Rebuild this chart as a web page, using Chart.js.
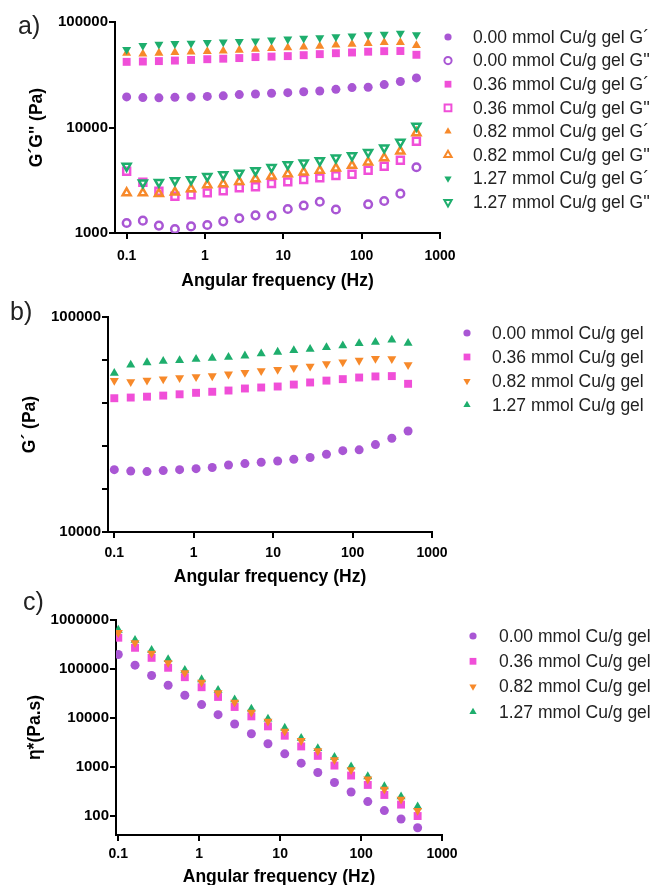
<!DOCTYPE html>
<html>
<head>
<meta charset="utf-8">
<script src="https://cdn.jsdelivr.net/npm/chart.js@4.4.1/dist/chart.umd.min.js"></script>
<style>
html, body { margin: 0; padding: 0; background: #fff; overflow: hidden; width: 654px; height: 885px; }
canvas { position: absolute; left: 0; }
</style>
</head>
<body>
<canvas id="chart_a" width="654" height="295" style="top:0px"></canvas>
<canvas id="chart_b" width="654" height="295" style="top:295px"></canvas>
<canvas id="chart_c" width="654" height="300" style="top:590px"></canvas>
<script>
// angular frequency (x) shared by all three panels
const freq = [0.1, 0.161, 0.258, 0.413, 0.664, 1.07, 1.71, 2.74, 4.41, 7.07,
              11.4, 18.2, 29.2, 46.9, 75.3, 121, 194, 312, 500];

// storage modulus G' (Pa)
const gp000 = [19500, 19200, 19100, 19300, 19500, 19700, 19950, 20500, 20800, 21100, 21400, 21800, 22200, 23000, 23900, 24100, 25500, 27300, 29500];
const gp036 = [41900, 42200, 42600, 43100, 43700, 44400, 44900, 45500, 46500, 47000, 47500, 48500, 49600, 50600, 51400, 52300, 52900, 53100, 48900];
const gp082 = [50600, 49900, 50800, 51400, 52100, 52700, 53200, 54200, 55200, 56200, 57000, 58000, 59000, 60600, 61700, 62800, 64100, 63900, 59900];
const gp127 = [54800, 59900, 61400, 62300, 62800, 63700, 64400, 65100, 66000, 67500, 68700, 69900, 70900, 72200, 73500, 75400, 76400, 78200, 75600];

// loss modulus G'' (Pa)
const gpp000 = [1245, 1310, 1175, 1090, 1155, 1190, 1290, 1380, 1470, 1460, 1690, 1820, 1980, 1670, null, 1870, 2010, 2360, 4200];
const gpp036 = [3850, 3030, 2490, 2230, 2300, 2400, 2510, 2680, 2740, 2940, 3050, 3210, 3330, 3500, 3610, 3940, 4300, 4900, 7420];
const gpp082 = [2400, 2400, 2360, 2430, 2620, 2860, 2920, 3070, 3260, 3450, 3630, 3770, 3910, 4110, 4360, 4690, 5150, 5960, 8900];
const gpp127 = [4300, 2990, 3030, 3140, 3210, 3450, 3580, 3710, 3910, 4200, 4460, 4620, 4860, 5150, 5420, 5830, 6410, 7260, 10300];

// complex viscosity eta* (Pa.s)
const eta000 = [198000, 120000, 73600, 46700, 29100, 18800, 11700, 7530, 4780, 2980, 1860, 1200, 771, 482, 310, 197, 129, 86.9, 57.7];
const eta036 = [435000, 271000, 169000, 106000, 68100, 42500, 26900, 16800, 10800, 6750, 4350, 2630, 1690, 1070, 670, 431, 269, 171, 100];
const eta082 = [551000, 343000, 208000, 134000, 83500, 53700, 32500, 20900, 13100, 8550, 5330, 3440, 2140, 1400, 875, 564, 352, 219, 129];
const eta127 = [624000, 389000, 243000, 157000, 94600, 61000, 36900, 23700, 15300, 9540, 6240, 3890, 2390, 1590, 1020, 639, 399, 249, 155];

const concLabels = ['0.00 mmol Cu/g gel', '0.36 mmol Cu/g gel', '0.82 mmol Cu/g gel', '1.27 mmol Cu/g gel'];
const xTicks = [0.1, 1, 10, 100, 1000];

const PURPLE = '#a956d4', PINK = '#f04fd8', ORANGE = '#f7892a', GREEN = '#1eae6d';
const FONT = 'Arial, "Liberation Sans", Helvetica, sans-serif';
Chart.defaults.font.family = FONT;
Chart.defaults.color = '#000';

function drawMarker(ctx, st, x, y, r) {
    ctx.save();
    ctx.beginPath();
    if (st.shape === 'circle') {
        ctx.arc(x, y, r, 0, Math.PI * 2);
    } else if (st.shape === 'rect') {
        const s = r * Math.SQRT1_2;
        ctx.rect(x - s, y - s, 2 * s, 2 * s);
    } else {
        const k = st.rot ? -1 : 1;
        ctx.moveTo(x, y - k * r);
        ctx.lineTo(x + r * 0.866, y + k * r / 2);
        ctx.lineTo(x - r * 0.866, y + k * r / 2);
        ctx.closePath();
    }
    if (st.filled) {
        ctx.fillStyle = st.color;
        ctx.fill();
    } else {
        ctx.strokeStyle = st.color;
        ctx.lineWidth = 2;
        ctx.stroke();
    }
    ctx.restore();
}

// panel letter, legend and unlabelled y ticks
const panelDecor = {
    id: 'panelDecor',
    afterDraw(chart, args, o) {
        const ctx = chart.ctx;
        ctx.save();
        if (o.minorY) {
            const ys = chart.scales.y;
            ctx.strokeStyle = '#000';
            ctx.lineWidth = 2;
            o.minorY.forEach((v) => {
                const py = Math.round(ys.getPixelForValue(v));
                ctx.beginPath();
                ctx.moveTo(ys.right - 6, py);
                ctx.lineTo(ys.right, py);
                ctx.stroke();
            });
        }
        ctx.textAlign = 'left';
        ctx.textBaseline = 'middle';
        ctx.fillStyle = '#222';
        ctx.font = '25px ' + FONT;
        ctx.fillText(o.letter, o.letterX, o.letterY);
        ctx.font = '17.5px ' + FONT;
        o.items.forEach((it, i) => {
            const y = o.y0 + i * o.dy;
            const r = it.st.shape === 'rect' ? 4.8 : (it.st.shape === 'circle' ? 3.6 : 4.2);
            drawMarker(ctx, it.st, o.markerX, y, r);
            ctx.fillStyle = '#222';
            ctx.fillText(it.label, o.textX, y + 1);
        });
        ctx.restore();
    }
};

function series(ys, st, order) {
    let r;
    if (st.filled) r = st.shape === 'rect' ? 5.6 : (st.shape === 'circle' ? 4.5 : 5.2);
    else r = st.shape === 'rect' ? 4.9 : (st.shape === 'circle' ? 3.8 : 4.6);
    return {
        data: freq.map((f, i) => ({ x: f, y: ys[i] })),
        pointStyle: st.shape,
        rotation: st.rot || 0,
        pointRotation: st.rot || 0,
        pointRadius: r,
        backgroundColor: st.filled ? st.color : 'rgba(0,0,0,0)',
        borderColor: st.color,
        borderWidth: st.filled ? 0 : 2.5,
        showLine: false,
        order: order
    };
}

function logAxis(cfg) {
    return {
        type: 'logarithmic',
        position: cfg.position,
        min: cfg.min,
        max: cfg.max,
        border: { display: true, color: '#000', width: 2 },
        grid: { drawOnChartArea: false, drawTicks: true, tickLength: 6, color: '#000', lineWidth: 2 },
        ticks: {
            autoSkip: false,
            maxRotation: 0,
            padding: cfg.tickPad,
            color: '#000',
            font: { size: cfg.position === 'left' ? 15 : 14, weight: 'bold' },
            callback: (v) => (cfg.labels.includes(v) ? String(v) : '')
        },
        title: {
            display: true,
            text: cfg.title,
            color: '#000',
            font: { size: 17.5, weight: 'bold' },
            padding: cfg.titlePad
        },
        afterBuildTicks: (s) => { s.ticks = cfg.ticks.map((v) => ({ value: v })); },
        afterFit: (s) => {
            if (cfg.position === 'left') s.width = cfg.size; else s.height = cfg.size;
        }
    };
}

function makeChart(id, datasets, o) {
    new Chart(document.getElementById(id), {
        type: 'scatter',
        data: { datasets: datasets },
        options: {
            responsive: false,
            animation: false,
            events: [],
            layout: { padding: { left: 0, top: o.top, right: o.right, bottom: 0 } },
            plugins: { legend: { display: false }, tooltip: { enabled: false }, panelDecor: o.decor },
            scales: { x: o.x, y: o.y }
        },
        plugins: [panelDecor]
    });
}

// ---- a) G' and G''
const stA = [
    { shape: 'circle', color: PURPLE, filled: true },
    { shape: 'circle', color: PURPLE, filled: false },
    { shape: 'rect', color: PINK, filled: true },
    { shape: 'rect', color: PINK, filled: false },
    { shape: 'triangle', color: ORANGE, filled: true },
    { shape: 'triangle', color: ORANGE, filled: false },
    { shape: 'triangle', rot: 180, color: GREEN, filled: true },
    { shape: 'triangle', rot: 180, color: GREEN, filled: false }
];
const seriesA = [gp000, gpp000, gp036, gpp036, gp082, gpp082, gp127, gpp127];
const labelsA = [];
concLabels.forEach((c) => { labelsA.push(c + ' G\u00b4'); labelsA.push(c + " G''"); });

makeChart('chart_a', seriesA.map((ys, i) => series(ys, stA[i], 8 - i)), {
    top: 22, right: 214,
    x: logAxis({ position: 'bottom', min: 0.071, max: 1000, ticks: xTicks, labels: xTicks, size: 62, tickPad: 9,
                 title: 'Angular frequency (Hz)', titlePad: { top: 0, bottom: 3 } }),
    y: logAxis({ position: 'left', min: 1000, max: 100000, ticks: [1000, 10000, 100000], labels: [1000, 10000, 100000],
                 size: 115, tickPad: 1, title: 'G\u00b4G\'\' (Pa)', titlePad: { top: 27, bottom: 0 } }),
    decor: { letter: 'a)', letterX: 18, letterY: 27, markerX: 448, textX: 473, y0: 37, dy: 23.6,
             items: labelsA.map((l, i) => ({ label: l, st: stA[i] })) }
});

// ---- b) G'
const stB = [
    { shape: 'circle', color: PURPLE, filled: true },
    { shape: 'rect', color: PINK, filled: true },
    { shape: 'triangle', rot: 180, color: ORANGE, filled: true },
    { shape: 'triangle', color: GREEN, filled: true }
];
const yTicksB = [10000, 100000];
const yMinorB = [15849, 25119, 39811, 63096];
makeChart('chart_b', [gp000, gp036, gp082, gp127].map((ys, i) => series(ys, stB[i], 4 - i)), {
    top: 22, right: 222,
    x: logAxis({ position: 'bottom', min: 0.0833, max: 1000, ticks: xTicks, labels: xTicks, size: 58, tickPad: 7,
                 title: 'Angular frequency (Hz)', titlePad: { top: 0, bottom: 2 } }),
    y: logAxis({ position: 'left', min: 10000, max: 100000, ticks: yTicksB, labels: yTicksB,
                 size: 108, tickPad: 1, title: 'G\u00b4 (Pa)', titlePad: { top: 20, bottom: 0 } }),
    decor: { letter: 'b)', letterX: 10, letterY: 18, markerX: 467, textX: 492, y0: 38, dy: 24, minorY: yMinorB,
             items: concLabels.map((l, i) => ({ label: l, st: stB[i] })) }
});

// ---- c) eta*
const stC = [
    { shape: 'circle', color: PURPLE, filled: true },
    { shape: 'rect', color: PINK, filled: true },
    { shape: 'triangle', rot: 180, color: ORANGE, filled: true },
    { shape: 'triangle', color: GREEN, filled: true }
];
const yTicksC = [100, 1000, 10000, 100000, 1000000];
makeChart('chart_c', [eta000, eta036, eta082, eta127].map((ys, i) => series(ys, stC[i], [3, 2, 0, 1][i])), {
    top: 30, right: 212,
    x: logAxis({ position: 'bottom', min: 0.0937, max: 1000, ticks: xTicks, labels: xTicks, size: 55, tickPad: 5,
                 title: 'Angular frequency (Hz)', titlePad: { top: 0, bottom: 2 } }),
    y: logAxis({ position: 'left', min: 41, max: 1000000, ticks: yTicksC, labels: yTicksC,
                 size: 116, tickPad: 1, title: '\u03b7*(Pa.s)', titlePad: { top: 25, bottom: 0 } }),
    decor: { letter: 'c)', letterX: 23, letterY: 13, markerX: 473, textX: 499, y0: 46, dy: 25.3,
             items: concLabels.map((l, i) => ({ label: l, st: stC[i] })) }
});
</script>
</body>
</html>
